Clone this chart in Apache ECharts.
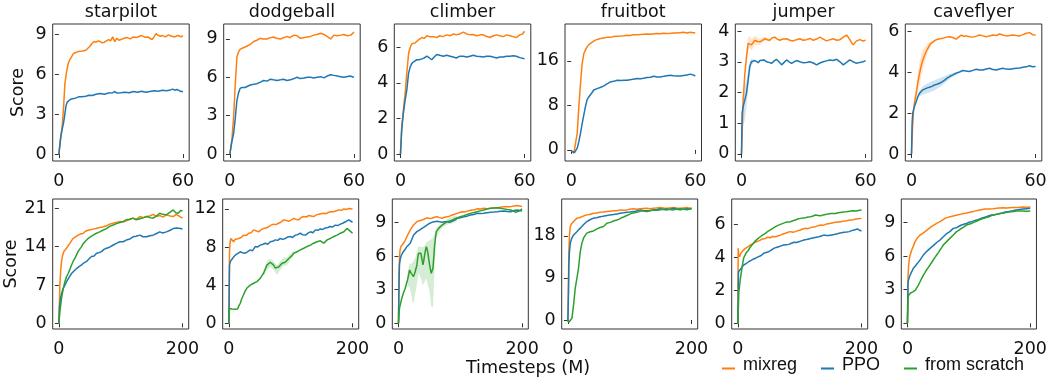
<!DOCTYPE html>
<html><head><meta charset="utf-8">
<script src="https://cdn.jsdelivr.net/npm/echarts@6/dist/echarts.min.js"></script>
<style>html,body{margin:0;padding:0;background:#fff}#c{width:1050px;height:381px}</style>
</head><body><div id="c"></div>
<script>
// ---------- data ----------
const seriesNames = ['mixreg', 'PPO', 'from scratch'];
const gameTitles = ['starpilot', 'dodgeball', 'climber', 'fruitbot', 'jumper', 'caveflyer'];
const xTicksTop = [0, 60];
const xTicksBottom = [0, 200];
const yTicksTop = [[0,3,6,9],[0,3,6,9],[0,2,4,6],[0,8,16],[0,1,2,3,4],[0,2,4,6]];
const yTicksBottom = [[0,7,14,21],[0,4,8,12],[0,3,6,9],[0,9,18],[0,2,4,6],[0,3,6,9]];
const yRangeTop = [[-0.52,9.77],[-0.55,10.17],[-0.39,7.31],[-2.0,22.6],[-0.23,4.23],[-0.34,6.34]];
const yRangeBottom = [[-1.04,22.7],[-0.6,13.04],[-0.51,11.08],[-1.93,25.9],[-0.34,7.51],[-0.51,11.08]];

// top row (0-60M)
const sp_top_mixreg = [[0,0],[1,1.4],[1.6,2.1],[2.3,3.6],[2.9,5.3],[3.7,6.2],[4.5,6.8],[5.3,7.1],[6.1,7.3],[7,7.55],[7.7,7.7],[9,7.68],[10,7.72],[11.5,7.75],[13,7.8],[14,7.95],[15,8.1],[16,8.3],[17,8.45],[18,8.4],[19,8.5],[20,8.45],[21,8.35],[22,8.4],[23,8.5],[24,8.6],[25,8.5],[26,8.8],[27,8.45],[28,8.7],[29,8.55],[30,8.6],[31.5,8.7],[33,8.75],[34.5,8.65],[36,8.8],[37.5,8.75],[39,8.85],[40,8.9],[41.5,8.78],[43,8.8],[44,8.7],[45,8.6],[46,8.8],[47,9.05],[48,8.92],[49,8.85],[50,8.9],[51.5,8.8],[53,8.95],[54.5,8.85],[56,8.8],[57,8.88],[58,8.9],[59,8.8],[60,8.9]];
const sp_top_ppo = [[0,0],[0.8,1.2],[1.5,1.8],[2.2,2.3],[2.8,2.9],[3.4,3.6],[4,3.9],[4.8,4.05],[5.5,4.1],[6.5,4.15],[8,4.2],[9.5,4.3],[11,4.3],[13,4.35],[14.5,4.42],[16,4.4],[18,4.5],[20,4.55],[22,4.5],[24,4.58],[26,4.6],[27,4.7],[28,4.58],[30,4.6],[32,4.65],[34,4.6],[36,4.7],[38,4.65],[40,4.72],[42,4.65],[44,4.7],[46,4.75],[48,4.72],[50,4.8],[52,4.75],[54,4.82],[55,4.88],[56,4.8],[57,4.85],[58,4.78],[59,4.7],[60,4.7]];
const db_top_mixreg = [[0,0],[1,1.2],[1.8,2.9],[2.6,5.5],[3.4,7.6],[4.2,8.0],[5,8.2],[5.8,8.3],[7,8.35],[8.3,8.45],[10,8.6],[11.5,8.8],[13,8.9],[14.7,9.05],[16,9.0],[18,9.0],[19.5,9.1],[21,9.15],[22.5,9.05],[24.4,9.0],[26,9.1],[27.7,9.2],[29,9.1],[31,9.3],[32.5,9.25],[34,9.05],[35.5,9.1],[37.4,9.15],[39,9.2],[40.6,9.3],[42,9.35],[43.9,9.45],[45.5,9.35],[47,9.2],[48.7,9.0],[50.3,9.3],[52,9.25],[53.6,9.3],[55,9.35],[56.8,9.25],[58.5,9.3],[60,9.55]];
const db_top_ppo = [[0,0],[1,1.0],[1.8,1.6],[2.6,2.8],[3.4,4.2],[4.2,4.8],[5,5.15],[6,5.2],[7.4,5.2],[8.5,5.3],[9.9,5.4],[11.5,5.45],[13,5.5],[14.5,5.6],[16.3,5.75],[18,5.7],[19.6,5.85],[21,5.8],[22.8,5.75],[24.5,5.8],[26,5.85],[27.5,5.75],[29.3,5.8],[31,5.9],[32.5,6.0],[34,5.9],[35.8,5.95],[37.5,6.0],[39,6.0],[40.5,5.95],[42.2,6.0],[44,6.05],[45.5,5.95],[47,6.1],[48.7,6.2],[50.3,6.15],[52,6.1],[53.5,6.05],[55,6.0],[56.5,6.05],[58,6.1],[60,6.0]];
const cl_top_mixreg = [[0,0],[0.6,1.55],[1.4,2.5],[2.25,3.4],[3,4.5],[3.9,5.65],[4.7,6.0],[5.5,6.2],[6.3,6.3],[7.1,6.25],[7.9,6.35],[9,6.45],[10.3,6.55],[11.5,6.5],[12.7,6.65],[14,6.6],[16,6.6],[17.5,6.55],[19,6.65],[20.5,6.6],[22.3,6.7],[24,6.65],[25.6,6.75],[27,6.7],[28.5,6.75],[30.4,6.85],[32,6.75],[33.6,6.7],[35,6.72],[36.8,6.65],[38.5,6.7],[40,6.7],[41.5,6.62],[43.2,6.55],[45,6.65],[46.5,6.7],[48,6.65],[49.7,6.6],[51.3,6.7],[52.9,6.65],[54.5,6.6],[56,6.55],[57.7,6.7],[59,6.75],[60,6.9]];
const cl_top_ppo = [[0,0],[0.6,1.4],[1.4,2.3],[2.2,3.0],[3.05,3.6],[3.9,4.55],[4.7,4.9],[5.5,5.1],[6.5,5.2],[7.9,5.3],[9,5.3],[10.3,5.35],[11.5,5.4],[12.7,5.5],[14,5.4],[15.1,5.3],[16.3,5.45],[17.5,5.6],[19,5.55],[20.7,5.5],[22.3,5.55],[24,5.5],[25.5,5.45],[27,5.4],[28.7,5.5],[30.4,5.5],[32,5.45],[33.6,5.5],[35.2,5.55],[36.8,5.5],[38.4,5.48],[40,5.45],[41.6,5.5],[43.2,5.5],[44.8,5.45],[46.5,5.4],[48,5.45],[49.7,5.45],[51.3,5.5],[52.9,5.5],[54.5,5.52],[56,5.5],[57.7,5.42],[59,5.38],[60,5.35]];
const fb_top_mixreg = [[0,-0.1],[0.7,-0.3],[1.3,-0.6],[2.1,-0.3],[2.9,3.0],[3.7,7.8],[4.5,11.9],[5.3,15.5],[6.1,17.3],[7,18.0],[7.7,18.5],[8.5,18.9],[9.3,19.2],[10.5,19.45],[11.7,19.7],[13,19.85],[14.1,20.0],[15.7,20.1],[17.4,20.2],[19,20.2],[20.5,20.35],[22.2,20.4],[24,20.45],[25.5,20.5],[27,20.6],[28.5,20.55],[30,20.65],[31.8,20.66],[33.5,20.7],[35,20.75],[36.7,20.8],[38.5,20.75],[40,20.85],[41.5,20.9],[43,20.85],[44.5,20.95],[46.3,20.9],[48,20.95],[49.5,21.0],[51,21.0],[52.5,21.05],[54.3,21.1],[56,21.0],[57.5,21.1],[59,21.05],[60,21.0]];
const fb_top_ppo = [[0,-0.2],[0.5,-0.3],[1.6,-0.5],[2.2,-0.2],[2.9,0.3],[3.7,1.5],[4.5,3.0],[5.3,4.7],[6.1,6.3],[6.9,7.8],[7.7,9.0],[8.5,9.5],[9.3,9.85],[10.1,10.3],[10.9,10.75],[11.7,10.85],[12.5,11.0],[14,11.2],[15.8,11.5],[17.5,11.9],[19,12.2],[20.5,12.3],[22.2,12.5],[24,12.45],[25.5,12.5],[27,12.5],[28.5,12.6],[30,12.7],[31.8,12.8],[33.5,12.75],[35,12.85],[36.7,13.0],[38.3,13.05],[39.9,13.2],[41.5,13.1],[43.1,13.1],[44.8,13.2],[46.3,13.3],[47.9,13.4],[49.5,13.3],[51,13.25],[52.7,13.25],[54.3,13.35],[56,13.45],[57.6,13.6],[59,13.45],[60,13.25]];
const jp_top_mixreg = [[0,0],[0.8,1.75],[1.6,2.6],[2.4,3.15],[3.2,3.6],[4,3.65],[4.8,3.55],[5.6,3.62],[6.5,3.7],[7.7,3.66],[8.9,3.65],[10.1,3.7],[11.3,3.75],[12.5,3.72],[13.7,3.7],[14.9,3.78],[16.1,3.8],[17.3,3.74],[18.5,3.7],[20,3.74],[21.8,3.75],[23.4,3.7],[25,3.68],[26.6,3.72],[28.2,3.75],[29.8,3.7],[31.5,3.72],[33.1,3.76],[34.7,3.7],[36.3,3.74],[37.9,3.8],[39.5,3.74],[41.1,3.68],[42.8,3.72],[44.4,3.75],[46,3.7],[47.6,3.72],[49.2,3.8],[50.8,3.87],[52.4,3.72],[53.2,3.62],[54,3.55],[54.8,3.6],[55.6,3.68],[57.3,3.72],[58.5,3.68],[60,3.7]];
const jp_top_ppo = [[0,0],[0.3,1.33],[0.8,1.55],[1.6,1.75],[2.4,1.98],[3.2,2.4],[4,2.85],[4.8,3.0],[5.6,3.02],[6.5,3.04],[7.3,3.0],[8.1,2.97],[8.9,3.04],[9.7,3.1],[10.9,3.06],[12.1,3.0],[13.3,2.98],[14.5,2.95],[15.7,3.02],[16.9,3.08],[18.1,3.0],[19.4,2.9],[20.6,2.98],[21.8,3.06],[23,3.0],[24.2,2.95],[25.4,3.0],[26.6,3.04],[28.2,3.0],[29.8,2.97],[31.4,2.98],[33,3.0],[34.7,2.96],[36.3,2.9],[37.9,2.96],[39.5,3.0],[41.1,3.03],[42.7,3.06],[44.3,3.04],[46,3.08],[47.6,3.0],[49.2,2.9],[50.8,2.98],[52.4,3.06],[54,3.0],[55.6,2.95],[57.2,2.98],[58.8,3.0],[60,3.04]];
const cf_top_mixreg = [[0,0],[0.5,1.3],[1,2.15],[1.6,2.6],[2.3,2.97],[3.1,3.5],[3.9,3.94],[4.7,4.3],[5.5,4.6],[6.3,4.8],[7.1,5.0],[7.9,5.15],[8.7,5.3],[9.5,5.4],[10.3,5.48],[11.5,5.55],[12.7,5.6],[14,5.62],[15.2,5.64],[16.8,5.7],[18.4,5.72],[20,5.68],[21.6,5.6],[22.8,5.7],[24,5.8],[25.3,5.74],[26.5,5.76],[28.1,5.72],[29.7,5.7],[31.3,5.75],[32.9,5.8],[34.5,5.76],[36.1,5.72],[37.7,5.76],[39.4,5.8],[41,5.78],[42.6,5.85],[44.2,5.8],[45.8,5.76],[47.4,5.78],[49,5.8],[50.6,5.78],[52.3,5.76],[53.9,5.82],[55.5,5.89],[57.1,5.92],[58.5,5.82],[60,5.8]];
const cf_top_ppo = [[0,0],[0.3,1.5],[0.6,2.0],[1.4,2.3],[2.3,2.56],[3.1,2.8],[3.9,2.97],[4.7,3.05],[5.5,3.13],[6.3,3.15],[7.1,3.2],[7.9,3.22],[8.7,3.26],[9.9,3.3],[11.1,3.37],[12.3,3.4],[13.5,3.45],[14.8,3.52],[16,3.6],[17.2,3.7],[18.4,3.78],[20,3.86],[21.6,3.94],[23.2,4.0],[24.8,4.07],[26.4,4.05],[28,4.02],[29.7,4.08],[31.3,4.13],[32.9,4.1],[34.5,4.1],[36.1,4.15],[37.7,4.18],[39.4,4.12],[41,4.1],[42.6,4.15],[44.2,4.18],[45.8,4.14],[47.4,4.13],[49,4.16],[50.6,4.18],[52.3,4.2],[53.9,4.23],[55.5,4.25],[57.1,4.3],[58.5,4.26],[60,4.27]];

// shaded spread bands [x, low, high]
const jp_top_mixreg_band = [[2.4,2.9,3.4],[3.2,3.35,3.8],[4,3.45,3.85],[4.8,3.35,3.75],[5.6,3.45,3.8],[6.5,3.55,3.85],[7.7,3.55,3.8],[8.9,3.55,3.75],[10.1,3.62,3.78],[11.3,3.68,3.82],[12.5,3.66,3.78],[13.7,3.65,3.75]];
const jp_top_ppo_band = [[0.3,0.9,1.6],[0.8,0.95,1.9],[1.6,1.1,2.2],[2.4,1.5,2.4],[3.2,2.1,2.7],[4,2.65,3.0],[4.8,2.9,3.1],[5.6,2.95,3.1]];
const cf_top_mixreg_band = [[1.6,2.4,2.8],[2.3,2.6,3.3],[3.1,3.0,4.0],[3.9,3.4,4.5],[4.7,3.8,4.85],[5.5,4.1,5.1],[6.3,4.4,5.2],[7.1,4.7,5.3],[7.9,4.95,5.4],[8.7,5.15,5.45],[9.5,5.3,5.5],[10.3,5.4,5.55]];
const cf_top_ppo_band = [[3.9,2.8,3.1],[5.5,2.9,3.3],[7.1,2.95,3.4],[8.7,3.0,3.5],[11.1,3.1,3.6],[13.5,3.25,3.7],[16,3.45,3.8],[18.4,3.65,3.9],[20,3.76,3.96],[21.6,3.88,4.0]];

// bottom row (0-200M)
const sp_bot_mixreg = [[0,0],[1.6,7],[3,9.8],[4.3,11.3],[6,12.4],[8,13.1],[10,13.4],[12.4,13.7],[15,14.2],[17.8,14.6],[20.5,15.1],[23,15.5],[27,15.8],[31,16.1],[35,16.3],[39,16.4],[43,16.8],[47,17.0],[51,17.1],[55.5,17.2],[60,17.3],[66,17.5],[71,17.6],[77,17.8],[82,18.1],[88,18.3],[93,18.4],[98.6,18.6],[104,18.5],[109,18.7],[115,19.0],[120,19.2],[125,19.0],[131,19.5],[137,19.3],[142,19.5],[147,19.6],[152.6,19.9],[158,19.5],[163,19.7],[168,19.4],[174,19.8],[180,19.6],[185,19.5],[190,19.9],[193,19.9],[197,19.4],[200,19.2]];
const sp_bot_ppo = [[0,0],[1,3],[2.7,4.6],[5,5.7],[7,6.4],[10,7.0],[12.4,7.6],[16,8.3],[20.5,9.1],[24,9.5],[28.6,10.0],[32,10.3],[36.7,10.65],[40,11.0],[44.7,11.3],[49,11.8],[52.8,12.2],[57,12.3],[61,12.8],[65,12.9],[69,13.1],[73,13.5],[77,13.7],[82,13.9],[88,14.3],[93,14.6],[98.6,14.9],[104,14.9],[109,15.2],[115,15.4],[120,15.8],[125,15.9],[131,16.1],[136,15.8],[142,15.8],[147,16.0],[152.6,16.1],[158,16.4],[163,16.7],[168,16.5],[174,16.7],[180,17.0],[185,17.3],[190,17.4],[193,17.5],[197,17.3],[200,17.2]];
const sp_bot_scratch = [[0,0],[2,2.5],[4.3,4.6],[7,6.3],[9.7,7.6],[12,8.4],[15,9.1],[18,9.9],[20.5,10.65],[23,11.3],[26,11.9],[28.5,12.5],[31,13.1],[34,13.6],[36.7,14.0],[39,14.5],[42,14.9],[45,15.2],[47.4,15.5],[51,15.8],[55.5,16.1],[60,16.4],[66,16.7],[71,17.0],[77,17.3],[82,17.7],[88,17.95],[93,18.2],[98.6,18.4],[104,18.6],[109,18.9],[115,19.0],[120,19.2],[125,18.9],[131,19.1],[137,19.3],[142,19.5],[147,19.3],[152.6,19.2],[158,19.6],[163,20.1],[168,19.9],[174,19.8],[180,20.3],[185,20.7],[189,20.2],[193,20.1],[197,20.6],[200,20.5]];
const db_bot_mixreg = [[0,0],[1,7.5],[2,8.5],[3.2,8.9],[5,8.7],[7.6,8.55],[10,8.8],[13,8.7],[15.7,8.9],[20,9.0],[23.8,9.25],[28,9.2],[32,9.45],[36,9.5],[40,9.8],[44,9.7],[48,9.6],[52,9.8],[56,9.95],[60,10.0],[64,10.1],[68,10.3],[72.4,10.4],[76,10.35],[80.5,10.5],[84,10.6],[88.6,10.85],[92,10.8],[96.8,10.7],[101,10.85],[105,11.0],[109,10.9],[113,10.85],[117,11.1],[121,11.2],[125,11.15],[129,11.3],[133,11.25],[137,11.2],[141,11.35],[145,11.45],[149,11.5],[153.5,11.55],[157,11.5],[161.6,11.65],[165,11.7],[169.7,11.7],[174,11.8],[178,11.9],[182,11.85],[186,12.0],[190,11.95],[194,12.05],[197,11.9],[200,12.0]];
const db_bot_ppo = [[0,0],[1,6.1],[2.5,6.5],[4.9,6.65],[7,6.9],[10.3,7.15],[14,7.3],[18.4,7.5],[22,7.4],[26.5,7.35],[30,7.5],[34.6,7.7],[38,7.6],[42.7,8.05],[46,8.0],[50.8,8.2],[55,8.3],[59,8.4],[63,8.3],[67,8.55],[71,8.6],[75,8.75],[79,8.7],[83,8.9],[87,8.8],[91.4,8.9],[95,9.05],[99.5,9.1],[103,9.0],[107.6,9.25],[111,9.3],[115.7,9.45],[119,9.3],[123.8,9.25],[128,9.45],[132,9.6],[136,9.5],[140,9.8],[144,9.75],[148,9.9],[152,9.85],[156,10.0],[160,10.05],[164,10.15],[168,10.1],[172,10.3],[176,10.25],[180.5,10.4],[184,10.5],[188.6,10.65],[191,10.5],[194,10.85],[197,10.7],[200,10.6]];
const db_bot_scratch = [[0,0],[1,1.55],[3,1.5],[4.9,1.5],[7.5,1.45],[10.3,1.47],[12,1.45],[14,1.5],[16,1.8],[18.4,2.1],[21,2.6],[23.8,3.0],[26.5,3.4],[29.2,3.7],[32,3.9],[34.6,4.0],[37,4.1],[40,4.2],[43,4.25],[45.4,4.37],[48,4.5],[50.8,4.72],[53.5,5.0],[56,5.25],[59,5.7],[61.6,6.1],[64.5,6.3],[67,6.4],[70,6.3],[72.4,6.1],[75,5.8],[77.8,5.6],[80.5,5.9],[83,6.1],[86,6.3],[88.6,6.47],[91,6.4],[94,6.47],[97,6.8],[99.5,7.0],[102,7.1],[105,7.35],[108,7.4],[110,7.5],[113,7.65],[115.7,7.7],[118,7.75],[121,7.87],[124,7.95],[126.5,8.05],[129,8.1],[132,8.2],[135,8.3],[137,8.4],[140,8.45],[142.7,8.55],[145,8.6],[148,8.65],[151,8.5],[153.5,8.4],[156,8.6],[159,8.75],[162,8.85],[164,8.9],[167,9.0],[169.7,9.1],[172,9.2],[175,9.25],[178,9.35],[180.5,9.45],[183,9.5],[186,9.6],[189,9.75],[191,9.95],[193,9.8],[195.7,9.7],[198,9.55],[200,9.45]];
const cl_bot_mixreg = [[0,0],[1,4.5],[1.6,5.8],[2.5,6.5],[3.8,6.83],[6,7.0],[8.1,7.13],[10.8,7.4],[13.5,7.7],[16,8.0],[19,8.3],[21.7,8.55],[24.4,8.76],[27,8.9],[29.8,9.06],[34,9.15],[38,9.2],[42,9.3],[46,9.4],[50,9.35],[54,9.36],[58,9.45],[62.3,9.5],[66,9.42],[70.5,9.36],[74.5,9.45],[78.6,9.5],[82.7,9.55],[86.7,9.65],[90.8,9.72],[94.9,9.8],[99,9.88],[103,9.95],[107,9.92],[111,10.0],[115,10.05],[119,10.1],[123,10.12],[127,10.2],[132,10.18],[138,10.25],[143,10.22],[149,10.25],[154,10.28],[160,10.3],[165,10.35],[170.7,10.4],[176,10.38],[181.6,10.4],[187,10.45],[192.4,10.5],[196,10.45],[200,10.4]];
const cl_bot_ppo = [[0,0],[1,4.0],[1.6,5.2],[2.5,5.6],[3.8,5.95],[6,6.2],[8.1,6.4],[10.8,6.6],[13.5,6.83],[16,6.95],[19,7.13],[21.7,7.5],[24.4,7.87],[27,8.0],[29.8,8.17],[34,8.3],[38,8.46],[42,8.6],[46,8.76],[50,8.9],[54,9.0],[58,9.05],[62.3,9.1],[66,9.05],[70.5,9.0],[74.5,9.05],[78.6,9.06],[82.7,9.0],[86.7,9.1],[90.8,9.2],[94.9,9.36],[100,9.4],[105.7,9.5],[111,9.55],[116.5,9.65],[122,9.7],[127,9.8],[132,9.78],[138,9.8],[143,9.85],[149,9.9],[154,9.92],[160,9.95],[165,9.98],[170.7,10.0],[176,9.97],[181.6,9.95],[187,10.05],[192.4,10.1],[196,10.05],[200,10.0]];
const cl_bot_scratch = [[0,0],[1.6,1.33],[3.5,1.8],[5.4,2.23],[8,2.7],[10.8,3.1],[12.7,3.5],[14.6,3.86],[16.3,4.3],[17.9,4.75],[19.3,4.6],[20.6,4.45],[22.5,4.3],[24.4,4.16],[25.7,4.4],[27,4.6],[28.5,4.9],[29.8,5.2],[31,5.8],[32.5,6.24],[34.4,6.3],[36.3,6.24],[38,5.7],[39.6,5.2],[41,5.6],[42.3,6.09],[43.6,6.5],[45,6.83],[46.3,6.6],[47.7,6.24],[49,5.7],[50.4,5.2],[51.7,4.8],[53,4.45],[54.4,4.5],[55.8,4.9],[57.2,6.0],[58.5,6.98],[60,7.7],[61.2,8.17],[63,8.3],[65,8.46],[67.8,8.6],[70.5,8.76],[74.5,8.9],[78.6,9.06],[82.7,9.12],[86.7,9.2],[90.8,9.3],[94.9,9.4],[100,9.5],[105.7,9.6],[111,9.7],[116.5,9.8],[122,9.88],[127,9.95],[132,10.02],[138,10.1],[143,10.18],[149,10.25],[154,10.28],[160,10.3],[165,10.25],[170.7,10.2],[176,10.15],[181.6,10.1],[186,10.0],[189.7,9.9],[192.4,9.95],[195,10.0],[198,10.1],[200,10.2]];
const fb_bot_mixreg = [[0,-0.35],[0.8,6],[1.6,14.6],[2.5,18],[3.8,20.0],[6,20.6],[9.2,21.1],[12,21.4],[14.6,21.8],[18,21.9],[22.6,22.1],[26,22.3],[30.7,22.5],[35,22.6],[41.5,22.86],[46,22.9],[52.3,23.07],[57,23.1],[63,23.2],[68,23.3],[73.9,23.36],[79,23.4],[84.6,23.57],[90,23.5],[95.4,23.57],[100,23.7],[106,23.8],[111,23.7],[117,23.8],[122,23.85],[127.8,23.9],[133,23.8],[138.5,23.9],[144,24.0],[149,24.07],[155,23.95],[160,23.9],[165,24.0],[171,24.07],[176,23.95],[181.7,23.9],[187,24.0],[192.5,24.07],[196,23.95],[200,23.9]];
const fb_bot_ppo = [[0,-0.35],[0.8,5],[1.6,11.8],[2.5,14.5],[3.8,16.4],[6,17.4],[9.2,18.2],[12,18.6],[14.6,18.9],[18,19.4],[22.6,20.0],[26,20.5],[30.7,21.07],[35,21.4],[41.5,21.8],[46,21.9],[52.3,22.1],[57,22.2],[63,22.36],[68,22.5],[73.9,22.6],[79,22.7],[84.6,22.86],[90,22.95],[95.4,23.07],[100,23.1],[106,23.2],[111,23.35],[117,23.57],[122,23.45],[127.8,23.36],[133,23.45],[138.5,23.57],[144,23.65],[149,23.8],[155,23.65],[160,23.57],[165,23.7],[171,23.9],[176,23.7],[181.7,23.57],[187,23.7],[192.5,23.8],[196,23.7],[200,23.8]];
const fb_bot_scratch = [[0,0],[1.6,-0.5],[3.8,-0.35],[6.5,0.36],[9.2,3.2],[11.9,6.8],[14.6,8.9],[17.2,11.1],[20,14.6],[22.6,16.4],[25.3,17.5],[28,18.1],[30.7,18.6],[33.5,18.8],[36,18.9],[38.7,19.0],[41.5,19.07],[44,19.2],[47,19.5],[49.5,19.4],[52.3,19.8],[55,19.85],[57.7,20.0],[60.5,20.4],[63,20.7],[65.7,20.75],[68.5,20.9],[71,21.0],[73.9,21.2],[76.5,21.3],[79,21.4],[83,21.6],[87,21.9],[91,22.1],[95.4,22.36],[99.5,22.6],[103.5,22.86],[107.5,22.95],[111.6,23.07],[115.6,23.2],[119.7,23.36],[123.7,23.3],[127.8,23.2],[133,23.4],[138.5,23.57],[144,23.5],[149,23.57],[155,23.7],[160,23.8],[165,23.65],[171,23.57],[176,23.7],[181.7,23.8],[187,23.7],[192.5,23.57],[196,23.75],[200,23.9]];
const jp_bot_mixreg = [[0,0],[0.5,4.53],[1.2,4.2],[2.7,4.03],[4.5,4.2],[6.5,4.33],[9,4.4],[12,4.53],[16,4.62],[20,4.73],[24,4.8],[28,4.9],[32,4.95],[36.3,5.03],[40,5.1],[44.4,5.13],[48,5.2],[52.6,5.17],[56,5.25],[60.7,5.23],[64.7,5.28],[68.8,5.33],[73,5.4],[77,5.44],[81,5.5],[85,5.54],[89,5.5],[93,5.54],[97,5.6],[101,5.64],[105,5.7],[109.5,5.74],[113.5,5.72],[117.6,5.78],[121.6,5.82],[125.7,5.84],[130,5.9],[134,5.94],[138,5.92],[142,5.98],[146,6.02],[150,6.04],[154,6.08],[158,6.1],[162,6.12],[166,6.14],[170,6.16],[174.5,6.18],[178.5,6.22],[182.6,6.24],[186.7,6.26],[190.8,6.3],[195,6.32],[200,6.34]];
const jp_bot_ppo = [[0,0],[1,3.12],[2.5,3.18],[3.8,3.22],[6.5,3.38],[9.2,3.52],[13,3.6],[17.3,3.72],[21.4,3.8],[25.5,3.89],[29.5,3.95],[33.6,4.03],[37.6,4.1],[41.7,4.23],[45.8,4.28],[49.9,4.33],[54,4.42],[58,4.53],[62,4.58],[66,4.63],[70,4.68],[74,4.73],[78,4.75],[82.4,4.77],[86.5,4.84],[90.5,4.9],[94.5,4.88],[98.6,4.93],[102.7,4.98],[106.8,5.03],[111,5.06],[115,5.1],[119,5.14],[123,5.17],[127,5.2],[131,5.23],[135,5.28],[139,5.33],[143,5.3],[147,5.3],[151,5.34],[155.6,5.37],[159.6,5.4],[163.7,5.44],[167.7,5.47],[171.8,5.5],[176,5.52],[180,5.54],[184,5.6],[188,5.64],[191,5.62],[193.5,5.7],[197,5.62],[200,5.58]];
const jp_bot_scratch = [[0,0],[1.6,1.91],[3.8,2.62],[6.5,3.32],[9.2,3.93],[13,4.23],[17.3,4.43],[20,4.6],[22.8,4.73],[25.5,4.85],[28,4.97],[32,5.1],[36.3,5.23],[40.4,5.34],[44.4,5.44],[48.5,5.55],[52.6,5.64],[56.7,5.74],[60.7,5.84],[64.8,5.92],[68.8,5.98],[73,6.04],[77,6.1],[81,6.12],[85,6.14],[89,6.2],[93,6.24],[97,6.3],[101,6.34],[105,6.36],[109.5,6.38],[113.5,6.42],[117.6,6.44],[121.6,6.48],[125.7,6.54],[130,6.52],[134,6.5],[138,6.55],[142,6.58],[146,6.6],[150,6.64],[154,6.63],[158,6.64],[162,6.68],[166,6.7],[170,6.72],[174.5,6.74],[178.5,6.76],[182.6,6.78],[186.7,6.8],[190.8,6.78],[195,6.82],[200,6.85]];
const cf_bot_mixreg = [[0,0],[1,4.3],[2,5.2],[3.2,5.8],[5,6.2],[7,6.53],[9.7,6.9],[12.4,7.28],[16,7.6],[20.5,7.87],[24.5,8.0],[28.6,8.17],[32.7,8.35],[36.8,8.52],[40.8,8.68],[44.9,8.82],[49,8.95],[53,9.06],[57,9.2],[61,9.36],[65,9.42],[69,9.5],[73,9.55],[77.3,9.6],[81.3,9.65],[85.4,9.71],[89.5,9.76],[93.5,9.8],[97.6,9.85],[101.6,9.89],[105.7,9.95],[109.7,10.0],[113.8,10.05],[117.8,10.1],[122,10.15],[126,10.19],[130,10.18],[134,10.19],[140,10.22],[145,10.25],[150,10.28],[155.7,10.3],[161,10.28],[166.5,10.3],[172,10.32],[177,10.33],[182.5,10.34],[188,10.36],[194,10.35],[200,10.36]];
const cf_bot_ppo = [[0,0],[1,3.7],[2.5,4.0],[4.3,4.3],[7,4.6],[9.7,4.9],[12.4,5.08],[15,5.26],[17.8,5.45],[20.5,5.64],[23.2,5.85],[26,6.09],[28.5,6.25],[31,6.39],[34,6.55],[36.8,6.68],[39.4,6.8],[42,6.92],[44.8,7.05],[47.6,7.2],[50.3,7.3],[53,7.42],[55.7,7.58],[58.4,7.72],[61,7.85],[63.8,8.0],[66.5,8.1],[69,8.17],[71.8,8.3],[74.6,8.46],[77.3,8.5],[80,8.52],[84,8.65],[88,8.76],[92,8.83],[96,8.9],[100,9.0],[104,9.06],[108,9.13],[112.4,9.2],[116.5,9.28],[120.5,9.36],[124.5,9.43],[128.6,9.5],[132.7,9.58],[136.8,9.65],[141,9.68],[145,9.71],[149,9.76],[153,9.8],[157,9.88],[161,9.95],[165,9.97],[169,10.0],[173,10.05],[177,10.1],[182,10.15],[188,10.19],[194,10.22],[200,10.25]];
const cf_bot_scratch = [[0,0],[1,2.23],[2,2.5],[3.2,2.67],[5,2.7],[7,2.76],[9,2.8],[10.8,2.82],[13,2.95],[15,3.1],[17.8,3.4],[20.5,3.7],[23.2,4.0],[26,4.3],[28.5,4.52],[31,4.75],[34,4.98],[36.8,5.2],[39.4,5.42],[42,5.64],[44.8,5.87],[47.6,6.09],[50.3,6.3],[53,6.53],[55.7,6.75],[58.4,6.98],[61,7.13],[63.8,7.28],[66.5,7.42],[69,7.57],[71.8,7.72],[74.6,7.87],[77.3,8.02],[80,8.17],[84,8.3],[88,8.46],[92,8.6],[96,8.76],[100,8.83],[104,8.9],[108,9.0],[112.4,9.1],[116.5,9.2],[120.5,9.3],[124.5,9.36],[128.6,9.42],[132.7,9.5],[136.8,9.6],[141,9.65],[145,9.71],[149,9.76],[153,9.8],[157,9.84],[161,9.89],[165,9.92],[169,9.95],[173,9.97],[177,10.0],[182.5,10.0],[188,10.0],[194,9.98],[200,10.0]];

const db_bot_scratch_band = [[56,4.9,5.6],[61.6,5.6,6.5],[67,5.9,6.8],[72.4,5.6,6.5],[77.8,5.1,6.1],[83,5.6,6.5],[88.6,6.0,6.9],[94,6.1,6.9],[99.5,6.7,7.3],[105,7.1,7.6]];
const cl_bot_scratch_band = [[14.6,3.2,4.5],[17.9,3.3,5.3],[20.6,2.6,5.3],[22.5,1.9,5.4],[24.4,1.8,5.6],[27,2.6,5.8],[29.8,3.5,6.4],[32.5,4.5,6.9],[36.3,4.0,6.8],[39.6,3.4,6.8],[42.3,3.7,6.9],[45,4.0,7.2],[47.7,3.4,7.3],[50.4,2.8,7.4],[53,1.5,7.5],[55.8,1.4,7.6],[58.5,5.2,8.0],[61.2,7.6,8.5],[65,8.1,8.7],[70.5,8.5,8.9],[78.6,8.8,9.3],[86.7,8.9,9.5],[94.9,9.1,9.6]];

// ---------- layout ----------
const COLORS = {'mixreg':'#ff7f0e','PPO':'#1f77b4','from scratch':'#2ca02c'};
const FONT = 'DejaVu Sans';
const FS = 17.5;
const topLefts = [52.7, 223.7, 394.3, 565, 735.3, 905.3];
const botLefts = [52.7, 222.7, 392.3, 561.7, 731.7, 901.3];
const topLines = [[sp_top_mixreg,sp_top_ppo],[db_top_mixreg,db_top_ppo],[cl_top_mixreg,cl_top_ppo],[fb_top_mixreg,fb_top_ppo],[jp_top_mixreg,jp_top_ppo],[cf_top_mixreg,cf_top_ppo]];
const botLines = [[sp_bot_mixreg,sp_bot_ppo,sp_bot_scratch],[db_bot_mixreg,db_bot_ppo,db_bot_scratch],[cl_bot_mixreg,cl_bot_ppo,cl_bot_scratch],[fb_bot_mixreg,fb_bot_ppo,fb_bot_scratch],[jp_bot_mixreg,jp_bot_ppo,jp_bot_scratch],[cf_bot_mixreg,cf_bot_ppo,cf_bot_scratch]];
const bands = [
  {idx:4, data:jp_top_mixreg_band, name:'mixreg'},
  {idx:4, data:jp_top_ppo_band, name:'PPO'},
  {idx:5, data:cf_top_mixreg_band, name:'mixreg'},
  {idx:5, data:cf_top_ppo_band, name:'PPO'},
  {idx:7, data:db_bot_scratch_band, name:'from scratch'},
  {idx:8, data:cl_bot_scratch_band, name:'from scratch'}
];

const grids = [], xAxes = [], yAxes = [], series = [], graphics = [];
function addPanel(idx, left, top, width, height, xr, xt, yr, yt, lines, showName) {
  grids.push({left, top, width, height, show:true, borderColor:'#333', borderWidth:1, backgroundColor:'transparent'});
  xAxes.push({gridIndex:idx, type:'value', min:xr[0], max:xr[1],
    axisLine:{show:false}, splitLine:{show:false},
    axisTick:{show:true, length:4, customValues:xt, lineStyle:{color:'#333'}},
    axisLabel:{customValues:xt, fontSize:FS, color:'#111', margin:11, fontFamily:FONT}});
  yAxes.push({gridIndex:idx, type:'value', min:yr[0], max:yr[1],
    name: showName ? 'Score' : '', nameLocation:'middle', nameRotate:90, nameGap:25,
    nameTextStyle:{fontSize:FS, color:'#111', fontFamily:FONT},
    axisLine:{show:false}, splitLine:{show:false},
    axisTick:{show:true, length:4, customValues:yt, lineStyle:{color:'#333'}},
    axisLabel:{customValues:yt, fontSize:FS, color:'#111', margin:6, fontFamily:FONT}});
  lines.forEach((d, k) => {
    const nm = seriesNames[k];
    series.push({type:'line', name:nm, xAxisIndex:idx, yAxisIndex:idx, data:d,
      showSymbol:false, symbol:'none', color:COLORS[nm], lineStyle:{width:1.5, color:COLORS[nm]},
      z:3+k, animation:false, clip:true});
  });
}
for (let i = 0; i < 6; i++) {
  addPanel(i, topLefts[i], 24, 136.5, 137, [-3, 63], xTicksTop, yRangeTop[i], yTicksTop[i], topLines[i], i === 0);
  graphics.push({type:'text', x: topLefts[i] + 68.25, y: 3.5,
    style:{text: gameTitles[i], textAlign:'center', textVerticalAlign:'top', fontSize:FS, fontFamily:FONT, fill:'#111'}});
}
for (let i = 0; i < 6; i++) {
  addPanel(6 + i, botLefts[i], 199, 136, 130, [-10, 210], xTicksBottom, yRangeBottom[i], yTicksBottom[i], botLines[i], i === 0);
}
bands.forEach(b => {
  series.push({type:'custom', xAxisIndex:b.idx, yAxisIndex:b.idx, data:b.data, encode:{x:0, y:[1,2]},
    silent:true, z:1, animation:false, clip:true,
    renderItem: (params, api) => {
      if (params.dataIndex !== 0) return null;
      const up = b.data.map(r => api.coord([r[0], r[2]]));
      const lo = b.data.slice().reverse().map(r => api.coord([r[0], r[1]]));
      return {type:'polygon', shape:{points: up.concat(lo)}, style:{fill:COLORS[b.name], opacity:0.2}};
    }});
});
graphics.push({type:'text', x:528, y:368, style:{text:'Timesteps (M)', textAlign:'center', textVerticalAlign:'middle', fontSize:FS, fontFamily:FONT, fill:'#111'}});

const chart = echarts.init(document.getElementById('c'), null, {renderer:'canvas'});
chart.setOption({
  animation:false,
  backgroundColor:'#fff',
  grid:grids, xAxis:xAxes, yAxis:yAxes, series,
  graphic: graphics,
  legend:{data:seriesNames, left:722, top:356, padding:0,
    icon:'path://M0,0 L13,0 L13,0 Z M0,7 L13,7 L13,9 L0,9 Z', itemWidth:13, itemHeight:11, itemGap:24,
    textStyle:{fontSize:18, color:'#111', fontFamily:'Liberation Sans', padding:[0,0,0,3]}}
});
</script></body></html>
